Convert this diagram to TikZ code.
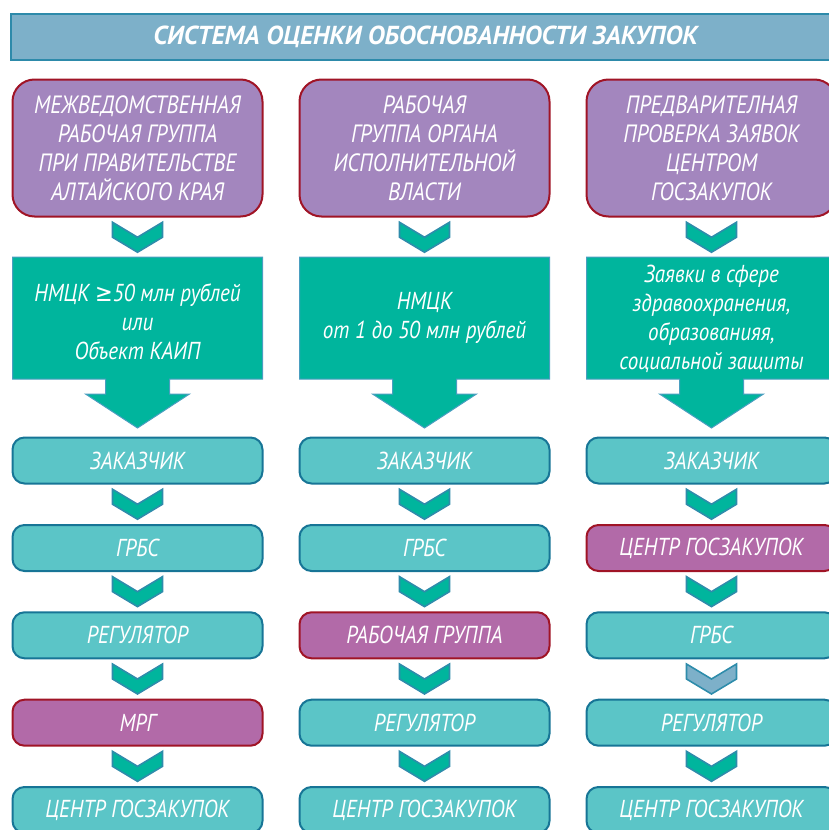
\documentclass[tikz,border=0pt]{standalone}
\usepackage{fontspec}
\setmainfont{PT Sans}[FakeStretch=0.86]
\newfontfamily\titlefont{PT Sans}
\newfontfamily\symfont{DejaVu Sans}[FakeStretch=0.86]
\usepackage{tikz}
\usetikzlibrary{calc}
\definecolor{titlefill}{HTML}{7DB0C9}
\definecolor{titleline}{HTML}{2D8AAA}
\definecolor{topfill}{HTML}{A386BE}
\definecolor{redline}{HTML}{A01426}
\definecolor{hotfill}{HTML}{B26AA8}
\definecolor{boxfill}{HTML}{5BC5C7}
\definecolor{boxline}{HTML}{177596}
\definecolor{greenfill}{HTML}{00B59D}
\definecolor{greenline}{HTML}{4A9EC0}
\definecolor{chevline}{HTML}{2E8CAB}
\tikzstyle{txt}=[text=white, align=center, font=\fontsize{24.5}{29}\selectfont\itshape, inner sep=0pt]
\tikzstyle{box}=[txt, draw=boxline, fill=boxfill, line width=2pt, rounded corners=12pt, minimum width=250pt, minimum height=46pt]
\tikzstyle{hot}=[box, draw=redline, fill=hotfill]
\tikzstyle{topbox}=[box, draw=redline, fill=topfill, rounded corners=22pt, minimum height=137pt, font=\fontsize{25}{29}\selectfont\itshape]
\tikzstyle{titlebar}=[txt, draw=titleline, fill=titlefill, line width=2pt, minimum width=829pt, minimum height=46pt, font=\titlefont\fontsize{26}{30}\selectfont\bfseries\itshape]
\tikzstyle{bigarrow}=[draw=greenline, fill=greenfill, line width=1pt, line join=miter]
\tikzstyle{chev}=[draw=chevline, line width=1.6pt, line join=miter]
\newcommand{\chevron}[3]{%
  \coordinate (mid) at ($#2!0.5!#3$);
  \draw[chev, fill=#1, shift={(mid)}] (-25,-15) -- (-25,0) -- (0,15) -- (25,0) -- (25,-15) -- (0,0) -- cycle;
}
\begin{document}
\begin{tikzpicture}[x=1pt,y=-1pt]
\useasboundingbox (0,0) rectangle (829,830);
\node[titlebar] (title) at (425.5,36.5) {СИСТЕМА ОЦЕНКИ ОБОСНОВАННОСТИ ЗАКУПОК};
\node[topbox] (t1) at (137.5,148) {МЕЖВЕДОМСТВЕННАЯ\\РАБОЧАЯ ГРУППА\\ПРИ ПРАВИТЕЛЬСТВЕ\\АЛТАЙСКОГО КРАЯ};
\node[topbox] (t2) at (424.5,148) {РАБОЧАЯ\\ГРУППА ОРГАНА\\ИСПОЛНИТЕЛЬНОЙ\\ВЛАСТИ};
\node[topbox] (t3) at (711.5,148) {ПРЕДВАРИТЕЛНАЯ\\ПРОВЕРКА ЗАЯВОК\\ЦЕНТРОМ\\ГОСЗАКУПОК};
\foreach \c/\x in {1/137.5,2/424.5,3/711.5} {
	\draw[bigarrow] ({\x-125},257) -- ({\x+125},257) -- ({\x+125},379) -- ({\x+32},379) -- ({\x+32},394) -- ({\x+52},394)
		-- (\x,428) -- ({\x-52},394) -- ({\x-32},394) -- ({\x-32},379) -- ({\x-125},379) -- cycle;
	\coordinate (g\c) at (\x,257);
	\chevron{greenfill}{(t\c.south)}{(g\c)}
}
\node[txt] (n1) at (137.5,322) {НМЦК {\symfont ≥}50 млн рублей\\или\\Объект КАИП};
\node[txt] (n2) at (424.5,318) {НМЦК\\от 1 до 50 млн рублей};
\node[txt] (n3) at (711.5,319) {Заявки в сфере\\здравоохранения,\\образованияя,\\социальной защиты};
\node[box] (1-1) at (137.5,460.5) {ЗАКАЗЧИК};
\node[box] (1-2) at (137.5,548) {ГРБС};
\node[box] (1-3) at (137.5,635.3) {РЕГУЛЯТОР};
\node[hot] (1-4) at (137.5,722.7) {МРГ};
\node[box] (1-5) at (137.5,810) {ЦЕНТР ГОСЗАКУПОК};
\node[box] (2-1) at (424.5,460.5) {ЗАКАЗЧИК};
\node[box] (2-2) at (424.5,548) {ГРБС};
\node[hot] (2-3) at (424.5,635.3) {РАБОЧАЯ ГРУППА};
\node[box] (2-4) at (424.5,722.7) {РЕГУЛЯТОР};
\node[box] (2-5) at (424.5,810) {ЦЕНТР ГОСЗАКУПОК};
\node[box] (3-1) at (711.5,460.5) {ЗАКАЗЧИК};
\node[hot] (3-2) at (711.5,548) {ЦЕНТР ГОСЗАКУПОК};
\node[box] (3-3) at (711.5,635.3) {ГРБС};
\node[box] (3-4) at (711.5,722.7) {РЕГУЛЯТОР};
\node[box] (3-5) at (711.5,810) {ЦЕНТР ГОСЗАКУПОК};
\foreach \c in {1,2,3} {
	\foreach \r [evaluate=\r as \n using int(\r+1)] in {1,...,4} {
		\def\cf{greenfill}
		\ifnum\c\r=33 \def\cf{titlefill}\fi
		\chevron{\cf}{(\c-\r.south)}{(\c-\n.north)}
	}
}
\end{tikzpicture}
\end{document}
